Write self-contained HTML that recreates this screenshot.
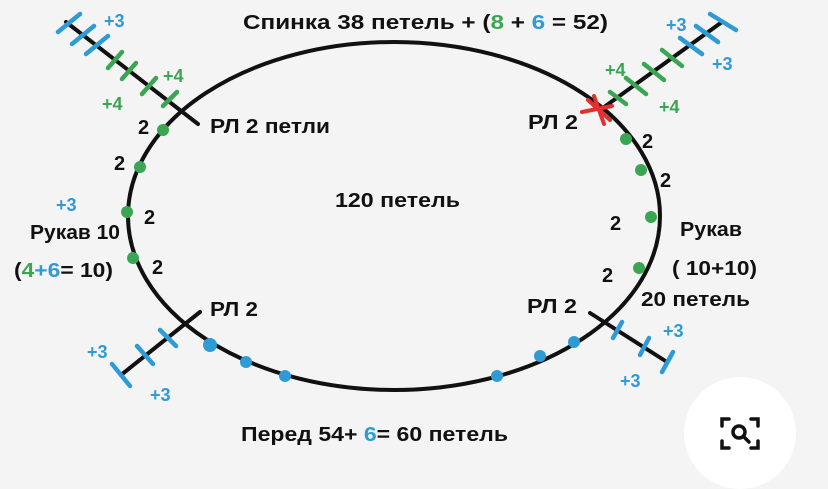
<!DOCTYPE html>
<html><head><meta charset="utf-8"><style>
html,body{margin:0;padding:0;background:#f4f4f4;}
svg{display:block}
text{font-family:"Liberation Sans",sans-serif;font-weight:bold;}
</style></head><body>
<svg width="828" height="489" viewBox="0 0 828 489" xmlns="http://www.w3.org/2000/svg">
<rect width="828" height="489" fill="#f4f4f4"/>
<ellipse cx="394" cy="216" rx="266" ry="174" fill="none" stroke="#111" stroke-width="4"/>
<g stroke="#111" stroke-width="4" stroke-linecap="round">
<line x1="66" y1="22" x2="198" y2="124"/>
<line x1="600" y1="110" x2="722" y2="22"/>
<line x1="121" y1="375" x2="200" y2="312"/>
<line x1="590" y1="313" x2="667" y2="362"/>
</g>
<g stroke="#2f9bd6" stroke-width="4.5" stroke-linecap="round">
<line x1="58" y1="32" x2="80" y2="14"/>
<line x1="72" y1="44" x2="94" y2="26"/>
<line x1="86" y1="54" x2="108" y2="36"/>
<line x1="710" y1="14" x2="736" y2="30"/>
<line x1="696" y1="26" x2="718" y2="42"/>
<line x1="680" y1="38" x2="702" y2="54"/>
<line x1="112" y1="364" x2="130" y2="386"/>
<line x1="137" y1="346" x2="153" y2="364"/>
<line x1="160" y1="330" x2="176" y2="346"/>
<line x1="613" y1="338" x2="622" y2="322"/>
<line x1="640" y1="355" x2="649" y2="338"/>
<line x1="662" y1="372" x2="673" y2="352"/>
</g>
<g stroke="#3aa552" stroke-width="4.5" stroke-linecap="round">
<line x1="108" y1="68" x2="122" y2="52"/>
<line x1="122" y1="79" x2="136" y2="63"/>
<line x1="142" y1="94" x2="156" y2="78"/>
<line x1="163" y1="106" x2="177" y2="92"/>
<line x1="662" y1="50" x2="682" y2="66"/>
<line x1="644" y1="64" x2="664" y2="80"/>
<line x1="626" y1="78" x2="646" y2="94"/>
<line x1="610" y1="92" x2="626" y2="104"/>
</g>
<g stroke="#e03030" stroke-width="4" stroke-linecap="round">
<line x1="582" y1="112" x2="612" y2="106"/>
<line x1="594" y1="96" x2="604" y2="124"/>
<line x1="588" y1="100" x2="610" y2="120"/>
</g>
<g fill="#3aa552">
<circle cx="163" cy="130" r="6"/><circle cx="140" cy="167" r="6"/><circle cx="127" cy="212" r="6"/><circle cx="133" cy="258" r="6"/>
<circle cx="626" cy="139" r="6"/><circle cx="641" cy="170" r="6"/><circle cx="651" cy="217" r="6"/><circle cx="639" cy="268" r="6"/>
</g>
<g fill="#2f9bd6">
<circle cx="210" cy="345" r="7"/><circle cx="246" cy="362" r="6"/><circle cx="285" cy="376" r="6"/>
<circle cx="497" cy="376" r="6"/><circle cx="540" cy="356" r="6"/><circle cx="574" cy="342" r="6"/>
</g>
<g font-size="20" fill="#111" lengthAdjust="spacingAndGlyphs">
<text x="243" y="29" textLength="365" lengthAdjust="spacingAndGlyphs">Спинка  38 петель +  (<tspan fill="#3aa552">8</tspan> + <tspan fill="#2f9bd6">6</tspan> = 52)</text>
<text x="210" y="133" textLength="120" lengthAdjust="spacingAndGlyphs">РЛ 2 петли</text>
<text x="335" y="207" textLength="125" lengthAdjust="spacingAndGlyphs">120  петель</text>
<text x="528" y="129" textLength="50" lengthAdjust="spacingAndGlyphs">РЛ 2</text>
<text x="30" y="239" textLength="90" lengthAdjust="spacingAndGlyphs">Рукав 10</text>
<text x="14" y="277" textLength="99" lengthAdjust="spacingAndGlyphs">(<tspan fill="#3aa552">4</tspan><tspan fill="#2f9bd6">+6</tspan>= 10)</text>
<text x="680" y="236" textLength="62" lengthAdjust="spacingAndGlyphs">Рукав</text>
<text x="672" y="275" textLength="85" lengthAdjust="spacingAndGlyphs">( 10+10)</text>
<text x="641" y="306" textLength="109" lengthAdjust="spacingAndGlyphs">20 петель</text>
<text x="210" y="316" textLength="48" lengthAdjust="spacingAndGlyphs">РЛ 2</text>
<text x="527" y="313" textLength="50" lengthAdjust="spacingAndGlyphs">РЛ 2</text>
<text x="241" y="441" textLength="267" lengthAdjust="spacingAndGlyphs">Перед 54+ <tspan fill="#2f9bd6">6</tspan>= 60 петель</text>
<text x="138" y="134">2</text><text x="114" y="170">2</text><text x="144" y="224">2</text><text x="152" y="274">2</text>
<text x="642" y="148">2</text><text x="660" y="187">2</text><text x="610" y="230">2</text><text x="602" y="282">2</text>
</g>
<g font-size="18" fill="#3aa552">
<text x="163" y="82">+4</text><text x="102" y="110">+4</text>
<text x="605" y="76">+4</text><text x="659" y="113">+4</text>
</g>
<g font-size="18" fill="#2f9bd6">
<text x="104" y="27">+3</text><text x="56" y="211">+3</text>
<text x="666" y="31">+3</text><text x="712" y="70">+3</text>
<text x="87" y="358">+3</text><text x="150" y="401">+3</text>
<text x="663" y="337">+3</text><text x="620" y="387">+3</text>
</g>
<circle cx="740" cy="433" r="56" fill="#fff"/>
<g stroke="#111" stroke-width="3.5" fill="none" stroke-linecap="round">
<path d="M722 426 v-7 h7"/><path d="M751 419 h7 v7"/><path d="M722 441 v7 h7"/><path d="M751 448 h7 v-7"/>
<circle cx="739" cy="432" r="6"/><line x1="744" y1="437" x2="749" y2="442"/>
</g>
</svg>
</body></html>
